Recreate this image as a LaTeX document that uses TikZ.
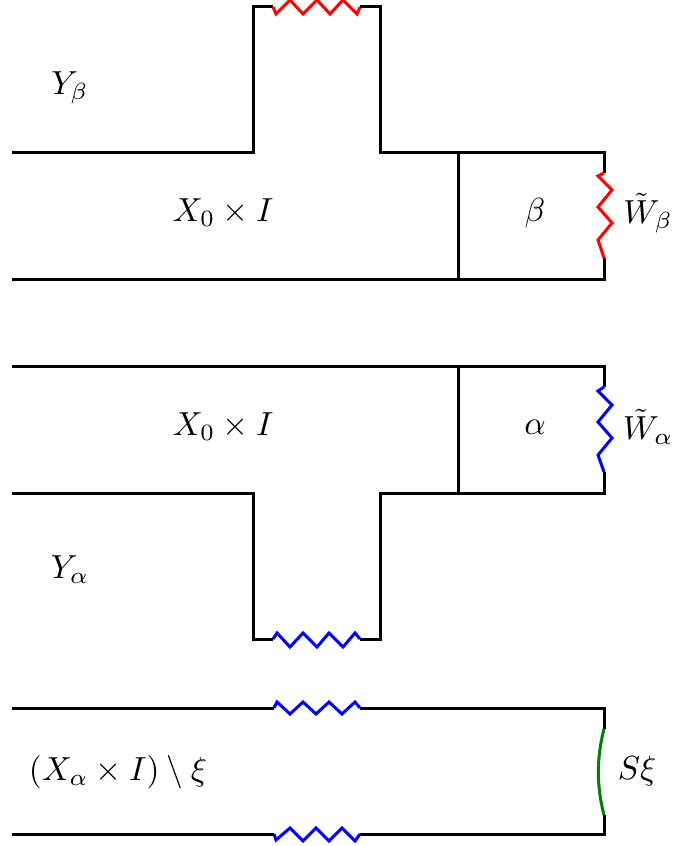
\documentclass[tikz,border=0pt]{standalone}
\usepackage{amsmath,amssymb}
\begin{document}
\begin{tikzpicture}[x=0.3pt,y=-0.3pt,
  blk/.style={draw=black,line width=0.9pt},
  zr/.style={draw=red,line width=0.9pt},
  zb/.style={draw=blue,line width=0.9pt},
  zg/.style={draw=green!50!black,line width=0.9pt},
  lbl/.style={inner sep=0pt}]
\useasboundingbox (0,0) rectangle (675,846);
% ---- top piece (beta)
\draw[blk] (12,153) -- (253,153) -- (253,7) -- (273,7);
\draw[zr] (273,7) -- (276,14) -- (290,0) -- (303,14) -- (317,0) -- (330,14) -- (343,0) -- (357,14) -- (360,7);
\draw[blk] (360,7) -- (380,7) -- (380,153) -- (604,153) -- (604,173);
\draw[zr] (604,173) -- (598,176) -- (612,190) -- (598,207) -- (612,223) -- (598,240) -- (604,258);
\draw[blk] (604,258) -- (604,280) -- (12,280);
\draw[blk] (458,153) -- (458,280);
% ---- middle piece (alpha)
\draw[blk] (12,367) -- (604,367) -- (604,387);
\draw[zb] (604,387) -- (598,391) -- (612,405) -- (598,422) -- (612,438) -- (598,455) -- (604,472);
\draw[blk] (604,472) -- (604,493) -- (380,493) -- (380,639) -- (360,639);
\draw[zb] (360,639) -- (355,633) -- (343,647) -- (329,633) -- (317,647) -- (303,633) -- (290,647) -- (277,633) -- (273,639);
\draw[blk] (273,639) -- (253,639) -- (253,493) -- (12,493);
\draw[blk] (458,367) -- (458,493);
% ---- bottom piece
\draw[blk] (12,708) -- (274,708);
\draw[zb] (274,708) -- (277,702) -- (290,714) -- (303,702) -- (316,714) -- (329,702) -- (342,714) -- (355,702) -- (360,708);
\draw[blk] (360,708) -- (604,708) -- (604,729);
\draw[zg] (604,729) .. controls (596.5,757) and (596.5,787) .. (604,815);
\draw[blk] (604,815) -- (604,834) -- (360,834);
\draw[zb] (360,834) -- (355,841) -- (342,828) -- (329,841) -- (316,828) -- (303,841) -- (290,828) -- (276,840) -- (274,834);
\draw[blk] (274,834) -- (12,834);
% ---- labels
\node[lbl] (yb) at (70,88) {$Y_\beta$};
\node[lbl] (x0top) at (223,213) {$X_0\times I$};
\node[lbl] (beta) at (535,213) {$\beta$};
\node[lbl] (wb) at (648,213) {$\tilde W_\beta$};
\node[lbl] (x0mid) at (223,427) {$X_0\times I$};
\node[lbl] (alpha) at (535,427) {$\alpha$};
\node[lbl] (wa) at (648,427) {$\tilde W_\alpha$};
\node[lbl] (ya) at (70,570) {$Y_\alpha$};
\node[lbl] (xa) at (118,772) {$(X_\alpha\times I)\setminus\xi$};
\node[lbl] (sxi) at (637,771) {$S\xi$};
\end{tikzpicture}
\end{document}
